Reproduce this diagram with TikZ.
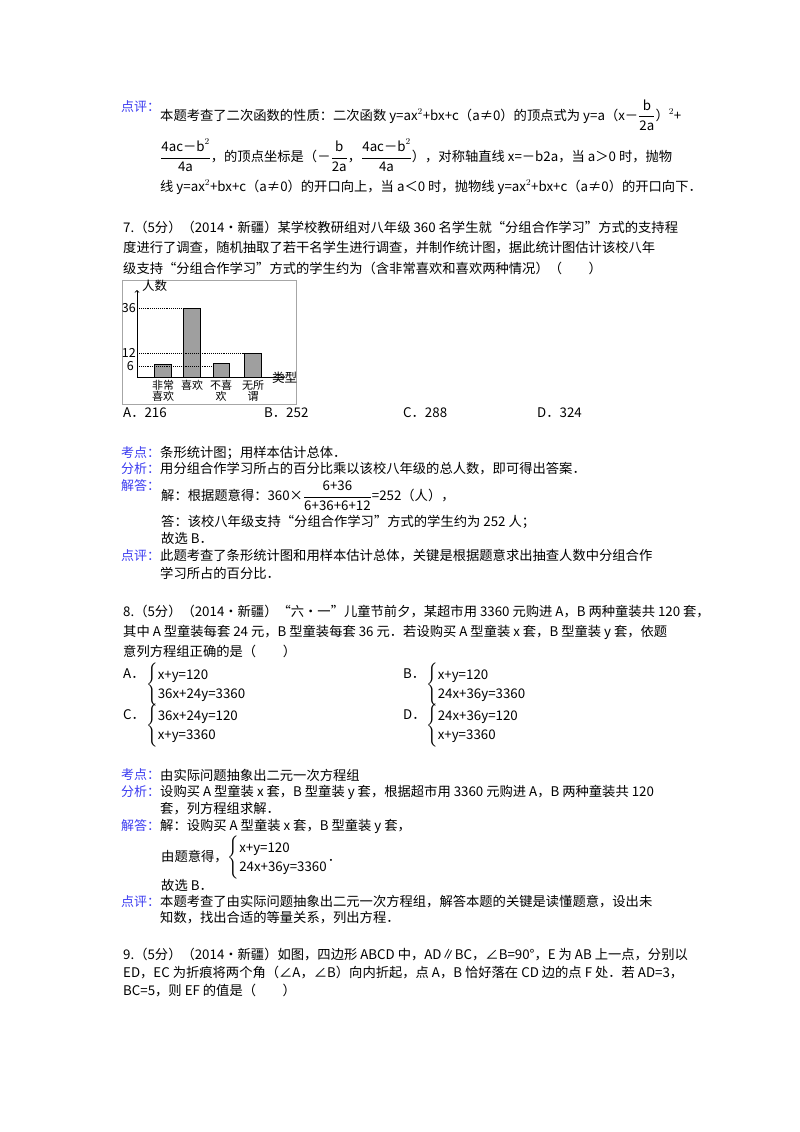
\documentclass[tikz,border=0pt]{standalone}
\usepackage{fontspec}
\usepackage{amsmath}
\setmainfont{Noto Sans CJK SC}
\newcommand{\eqsys}[2]{$\renewcommand{\arraystretch}{1.2}\left\{\begin{array}{@{}l@{}}\mbox{#1}\\\mbox{#2}\end{array}\right.$}
\begin{document}
\begin{tikzpicture}[x=1pt,y=-1pt,
  txt/.style={anchor=west,inner sep=0pt,font=\fontsize{13.3}{16}\selectfont},
  lbl/.style={anchor=west,inner sep=0pt,text=kblue,font=\fontsize{13}{15}\selectfont},
  small/.style={inner sep=0pt,font=\fontsize{11}{11.5}\selectfont,align=center},
  bar/.style={draw=black,fill=gray!75,line width=0.8pt},
  dot/.style={densely dotted,line width=0.9pt}]
\definecolor{kblue}{RGB}{60,60,240}
\useasboundingbox (0,0) rectangle (800,1132);
% review of Q6
\node[lbl] (l1) at (121,107) {点评：};
\node[txt] (t1) at (160,115) {本题考查了二次函数的性质：二次函数 y=ax$^2$+bx+c（a≠0）的顶点式为 y=a（x－$\dfrac{\mbox{b}}{\mbox{2a}}$）$^2$+};
\node[txt] (t2) at (160,155) {$\dfrac{\mbox{4ac－b}^2}{\mbox{4a}}$，的顶点坐标是（－$\dfrac{\mbox{b}}{\mbox{2a}}$，$\dfrac{\mbox{4ac－b}^2}{\mbox{4a}}$），对称轴直线 x=－b2a，当 a＞0 时，抛物};
\node[txt] (t3) at (160,187) {线 y=ax$^2$+bx+c（a≠0）的开口向上，当 a＜0 时，抛物线 y=ax$^2$+bx+c（a≠0）的开口向下．};
% Q7
\node[txt] (q71) at (123,227) {7.（5分）（2014•新疆）某学校教研组对八年级 360 名学生就“分组合作学习”方式的支持程};
\node[txt] (q72) at (123,248) {度进行了调查，随机抽取了若干名学生进行调查，并制作统计图，据此统计图估计该校八年};
\node[txt] (q73) at (123,268) {级支持“分组合作学习”方式的学生约为（含非常喜欢和喜欢两种情况）（　　）};
% chart
\draw[gray!70,line width=1pt] (122,280) rectangle (296,404);
\coordinate (O) at (137,377);
\draw[->,line width=0.8pt] (O) -- (137,290);
\draw[->,line width=0.8pt] (O) -- (285,377);
\node[small,anchor=west,font=\fontsize{12.5}{13}\selectfont] (yl) at (142,286) {人数};
\node[small,anchor=west,font=\fontsize{12.5}{13}\selectfont] (xl) at (272,378) {类型};
\draw[bar] (154,377) rectangle (171,364);
\draw[bar] (183,377) rectangle (200,308);
\draw[bar] (213,377) rectangle (229,363);
\draw[bar] (244,377) rectangle (261,353);
\draw[dot] (137,308) -- (183,308);
\draw[dot] (137,353) -- (244,353);
\draw[dot] (137,366) -- (213,366);
\node[small,anchor=east,font=\fontsize{12.5}{13}\selectfont] (n36) at (136,308) {36};
\node[small,anchor=east,font=\fontsize{12.5}{13}\selectfont] (n12) at (136,353) {12};
\node[small,anchor=east,font=\fontsize{12.5}{13}\selectfont] (n6) at (134,366) {6};
\node[small,anchor=north] (c1) at (163,380) {非常\\喜欢};
\node[small,anchor=north] (c2) at (192,380) {喜欢};
\node[small,anchor=north] (c3) at (221,380) {不喜\\欢};
\node[small,anchor=north] (c4) at (253,380) {无所\\谓};
\node[txt] (o1) at (123,413) {A．216};
\node[txt] (o2) at (264,413) {B．252};
\node[txt] (o3) at (403,413) {C．288};
\node[txt] (o4) at (537,413) {D．324};
\node[lbl] (k7) at (121,453) {考点：};
\node[txt] (k7t) at (160,453) {条形统计图；用样本估计总体．};
\node[lbl] (f7) at (121,469) {分析：};
\node[txt] (f7t) at (160,469) {用分组合作学习所占的百分比乘以该校八年级的总人数，即可得出答案．};
\node[lbl] (j7) at (121,486) {解答：};
\node[txt] (j7a) at (161,496) {解：根据题意得：360×$\dfrac{\mbox{6+36}}{\mbox{6+36+6+12}}$=252（人），};
\node[txt] (j7b) at (161,522) {答：该校八年级支持“分组合作学习”方式的学生约为 252 人；};
\node[txt] (j7c) at (161,538) {故选 B．};
\node[lbl] (p7) at (121,556) {点评：};
\node[txt] (p7a) at (160,556) {此题考查了条形统计图和用样本估计总体，关键是根据题意求出抽查人数中分组合作};
\node[txt] (p7b) at (160,573) {学习所占的百分比．};
% Q8
\node[txt] (q81) at (123,612) {8.（5分）（2014•新疆）“六•一”儿童节前夕，某超市用 3360 元购进 A，B 两种童装共 120 套，};
\node[txt] (q82) at (123,632) {其中 A 型童装每套 24 元，B 型童装每套 36 元．若设购买 A 型童装 x 套，B 型童装 y 套，依题};
\node[txt] (q83) at (123,651) {意列方程组正确的是（　　）};
\node[txt] (a8l) at (123,674) {A．};
\node[txt] (a8) at (146,685) {\eqsys{x+y=120}{36x+24y=3360}};
\node[txt] (b8l) at (403,674) {B．};
\node[txt] (b8) at (426,685) {\eqsys{x+y=120}{24x+36y=3360}};
\node[txt] (c8l) at (123,715) {C．};
\node[txt] (c8) at (146,726) {\eqsys{36x+24y=120}{x+y=3360}};
\node[txt] (d8l) at (403,715) {D．};
\node[txt] (d8) at (426,726) {\eqsys{24x+36y=120}{x+y=3360}};
\node[lbl] (k8) at (121,775) {考点：};
\node[txt] (k8t) at (160,775) {由实际问题抽象出二元一次方程组};
\node[lbl] (f8) at (121,792) {分析：};
\node[txt] (f8a) at (160,792) {设购买 A 型童装 x 套，B 型童装 y 套，根据超市用 3360 元购进 A，B 两种童装共 120};
\node[txt] (f8b) at (160,809) {套，列方程组求解．};
\node[lbl] (j8) at (121,826) {解答：};
\node[txt] (j8a) at (160,826) {解：设购买 A 型童装 x 套，B 型童装 y 套，};
\node[txt] (j8b) at (161,858) {由题意得，\eqsys{x+y=120}{24x+36y=3360}．};
\node[txt] (j8c) at (161,885) {故选 B．};
\node[lbl] (p8) at (121,902) {点评：};
\node[txt] (p8a) at (160,902) {本题考查了由实际问题抽象出二元一次方程组，解答本题的关键是读懂题意，设出未};
\node[txt] (p8b) at (160,918) {知数，找出合适的等量关系，列出方程．};
% Q9
\node[txt] (q91) at (123,955) {9.（5分）（2014•新疆）如图，四边形 ABCD 中，AD∥BC，∠B=90°，E 为 AB 上一点，分别以};
\node[txt] (q92) at (123,973) {ED，EC 为折痕将两个角（∠A，∠B）向内折起，点 A，B 恰好落在 CD 边的点 F 处．若 AD=3，};
\node[txt] (q93) at (123,991) {BC=5，则 EF 的值是（　　）};
\end{tikzpicture}
\end{document}
